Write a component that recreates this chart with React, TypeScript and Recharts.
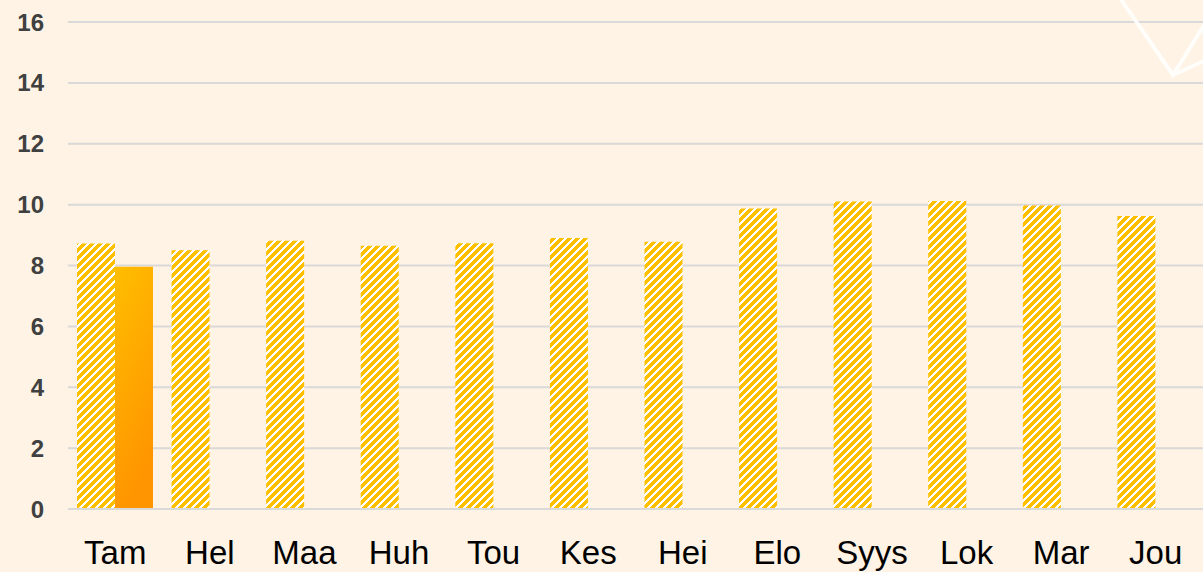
import { BarChart, Bar, XAxis, YAxis, CartesianGrid } from 'recharts';

const months = ['Tam', 'Hel', 'Maa', 'Huh', 'Tou', 'Kes', 'Hei', 'Elo', 'Syys', 'Lok', 'Mar', 'Jou'];
const average = [8.72, 8.5, 8.81, 8.65, 8.73, 8.9, 8.78, 9.87, 10.1, 10.12, 9.97, 9.63];
const current: (number | null)[] = [7.96, null, null, null, null, null, null, null, null, null, null, null];
const yTicks = [0, 2, 4, 6, 8, 10, 12, 14, 16];

const data = months.map((name, i) => ({ name, average: average[i], current: current[i] }));

export default function App() {
  return (
    <div style={{ position: 'absolute', left: 0, top: 0, width: 1203, height: 572, background: '#FEF3E4', overflow: 'hidden' }}>
      <BarChart width={1203} height={572} data={data} margin={{ top: 22, right: 0, bottom: 0, left: 0 }}
        barSize={38} barGap={0} barCategoryGap={0}>
        <defs>
          <pattern id="hatch" width="8" height="8" patternUnits="userSpaceOnUse">
            <rect width="8" height="8" fill="#FFFFFF" />
            <path d="M-2,2 L2,-2 M0,8 L8,0 M6,10 L10,6" stroke="#FFC000" strokeWidth={3.6} shapeRendering="crispEdges" />
          </pattern>
          <linearGradient id="orangeGrad" x1="0" y1="0" x2="0.3" y2="1">
            <stop offset="0%" stopColor="#FFBE00" />
            <stop offset="100%" stopColor="#FF9500" />
          </linearGradient>
        </defs>
        <CartesianGrid vertical={false} stroke="#D9D9D9" strokeWidth={2} />
        <XAxis dataKey="name" height={63} axisLine={{ stroke: '#D9D9D9', strokeWidth: 2 }} tickLine={false}
          tickMargin={26} interval={0}
          tick={{ fontSize: 33, fill: '#000000', fontFamily: 'Liberation Sans, Arial, sans-serif' }} />
        <YAxis width={68} domain={[0, 16]} ticks={yTicks} axisLine={false} tickLine={false} tickMargin={18}
          tick={{ fontSize: 24, fontWeight: 700, fill: '#404040', fontFamily: 'Liberation Sans, Arial, sans-serif' }} />
        <Bar dataKey="average" fill="url(#hatch)" isAnimationActive={false} />
        <Bar dataKey="current" fill="url(#orangeGrad)" isAnimationActive={false} />
      </BarChart>
      <svg width={1203} height={572} style={{ position: 'absolute', left: 0, top: 0, pointerEvents: 'none' }}>
        <path d="M1120,-2 L1173,75 L1206,22 M1173,75 L1206,60" stroke="#FFFFFF" strokeWidth={4} fill="none" opacity={0.85} />
      </svg>
    </div>
  );
}
